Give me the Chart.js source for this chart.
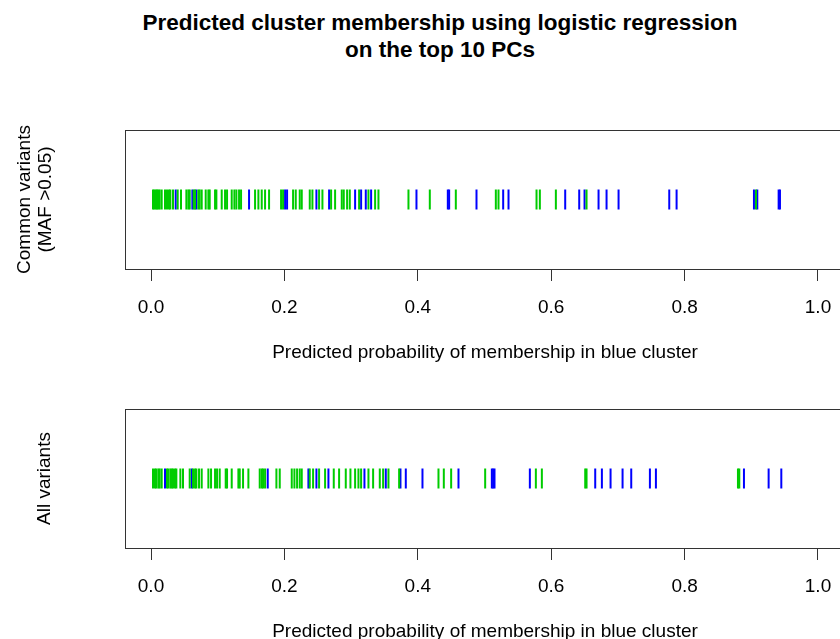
<!DOCTYPE html>
<html lang="en">

<head>
    <meta charset="UTF-8">
    <title>Predicted cluster membership</title>
    <script src="https://cdn.jsdelivr.net/npm/chart.js"></script>
    <style>
        body { margin: 0; width: 840px; height: 639px; overflow: hidden; background: #fff; position: relative; }
        .title { position: absolute; left: 0; top: 9px; width: 880px; text-align: center;
                 font: bold 22.5px "Liberation Sans", Arial, sans-serif; line-height: 27px; color: #000; }
        canvas { position: absolute; left: 0; }
    </style>
</head>

<body>
    <div class="title">Predicted cluster membership using logistic regression<br>on the top 10 PCs</div>
    <canvas id="commonChart" width="870" height="280" style="top:100px"></canvas>
    <canvas id="allChart" width="870" height="280" style="top:379px"></canvas>

    <script>
        // predicted probabilities
        const commonGreen = [0.003, 0.005, 0.007, 0.009, 0.011, 0.013, 0.016, 0.021, 0.024, 0.027, 0.029, 0.033,
            0.040, 0.045, 0.053, 0.056, 0.058, 0.064, 0.066, 0.071, 0.073, 0.076, 0.082, 0.086, 0.088, 0.096,
            0.098, 0.106, 0.111, 0.114, 0.121, 0.125, 0.128, 0.132, 0.135, 0.156, 0.161, 0.166, 0.171, 0.177,
            0.195, 0.198, 0.213, 0.217, 0.223, 0.226, 0.238, 0.242, 0.252, 0.257, 0.270, 0.276, 0.286, 0.289,
            0.294, 0.298, 0.312, 0.326, 0.336, 0.341, 0.386, 0.418, 0.457, 0.517, 0.521, 0.578, 0.583, 0.607,
            0.653, 0.907];
        const commonBlue = [0.037, 0.062, 0.068, 0.147, 0.201, 0.204, 0.248, 0.267, 0.306, 0.315, 0.322, 0.330,
            0.398, 0.445, 0.447, 0.488, 0.528, 0.536, 0.621, 0.642, 0.650, 0.671, 0.683, 0.701, 0.777, 0.788,
            0.904, 0.909, 0.941, 0.943];

        const allGreen = [0.003, 0.006, 0.008, 0.011, 0.013, 0.016, 0.024, 0.026, 0.029, 0.031, 0.033, 0.036,
            0.038, 0.044, 0.048, 0.058, 0.063, 0.066, 0.068, 0.072, 0.076, 0.086, 0.090, 0.096, 0.099, 0.103,
            0.112, 0.114, 0.121, 0.131, 0.133, 0.138, 0.146, 0.163, 0.166, 0.168, 0.171, 0.188, 0.193, 0.211,
            0.215, 0.219, 0.223, 0.226, 0.238, 0.243, 0.252, 0.261, 0.274, 0.282, 0.292, 0.299, 0.306, 0.311,
            0.315, 0.326, 0.333, 0.343, 0.348, 0.356, 0.372, 0.431, 0.439, 0.450, 0.501, 0.577, 0.586, 0.651,
            0.653, 0.880, 0.882];
        const allBlue = [0.021, 0.061, 0.175, 0.236, 0.248, 0.266, 0.320, 0.352, 0.374, 0.382, 0.407, 0.461,
            0.511, 0.513, 0.515, 0.568, 0.666, 0.676, 0.689, 0.707, 0.720, 0.748, 0.757, 0.889, 0.926, 0.945];

        const xTicks = [0, 0.2, 0.4, 0.6, 0.8, 1.0];
        const xTitle = 'Predicted probability of membership in blue cluster';
        const fontFamily = '"Liberation Sans", Arial, sans-serif';

        // R-style box around the plot region
        const boxPlugin = {
            id: 'box',
            afterDraw(chart) {
                const a = chart.chartArea;
                const ctx = chart.ctx;
                ctx.save();
                ctx.strokeStyle = '#333';
                ctx.lineWidth = 1;
                ctx.strokeRect(a.left + 0.5, a.top + 0.5, a.right - a.left, a.bottom - a.top);
                ctx.restore();
            }
        };

        function rug(vals) {
            return vals.map(v => ({ x: v, y: 0.5 }));
        }

        function makeRug(id, yLabel, green, blue, labelPad) {
            const ctx = document.getElementById(id).getContext('2d');
            return new Chart(ctx, {
                type: 'scatter',
                data: {
                    datasets: [{
                        data: rug(green),
                        borderColor: '#00cc00',
                        backgroundColor: '#00cc00'
                    }, {
                        data: rug(blue),
                        borderColor: '#0000ff',
                        backgroundColor: '#0000ff'
                    }]
                },
                options: {
                    responsive: false,
                    animation: false,
                    events: [],
                    layout: { padding: { top: 30, right: 25, left: 0, bottom: 0 } },
                    elements: {
                        point: { pointStyle: 'line', rotation: 90, radius: 10, borderWidth: 2 }
                    },
                    plugins: {
                        legend: { display: false },
                        tooltip: { enabled: false }
                    },
                    scales: {
                        x: {
                            type: 'linear',
                            min: -0.039,
                            max: 1.0405,
                            afterBuildTicks: s => { s.ticks = xTicks.map(v => ({ value: v })); },
                            afterFit: s => { s.height = 111; },
                            ticks: {
                                color: '#000',
                                padding: 15,
                                maxRotation: 0,
                                font: { family: fontFamily, size: 19 },
                                callback: v => v.toFixed(1)
                            },
                            grid: { drawOnChartArea: false, tickLength: 12, color: '#333' },
                            border: { color: '#333' },
                            title: {
                                display: true,
                                text: xTitle,
                                color: '#000',
                                padding: { top: 0, bottom: 16 },
                                font: { family: fontFamily, size: 19 }
                            }
                        },
                        y: {
                            min: 0,
                            max: 1,
                            afterFit: s => { s.width = 125; },
                            ticks: { display: false },
                            grid: { display: false },
                            border: { display: false },
                            title: {
                                display: true,
                                text: yLabel,
                                color: '#000',
                                padding: { top: labelPad, bottom: 0 },
                                font: { family: fontFamily, size: 19, lineHeight: 1.1 }
                            }
                        }
                    }
                },
                plugins: [boxPlugin]
            });
        }

        makeRug('commonChart', ['Common variants', '(MAF >0.05)'], commonGreen, commonBlue, 14);
        makeRug('allChart', 'All variants', allGreen, allBlue, 34);
    </script>

</body>

</html>
